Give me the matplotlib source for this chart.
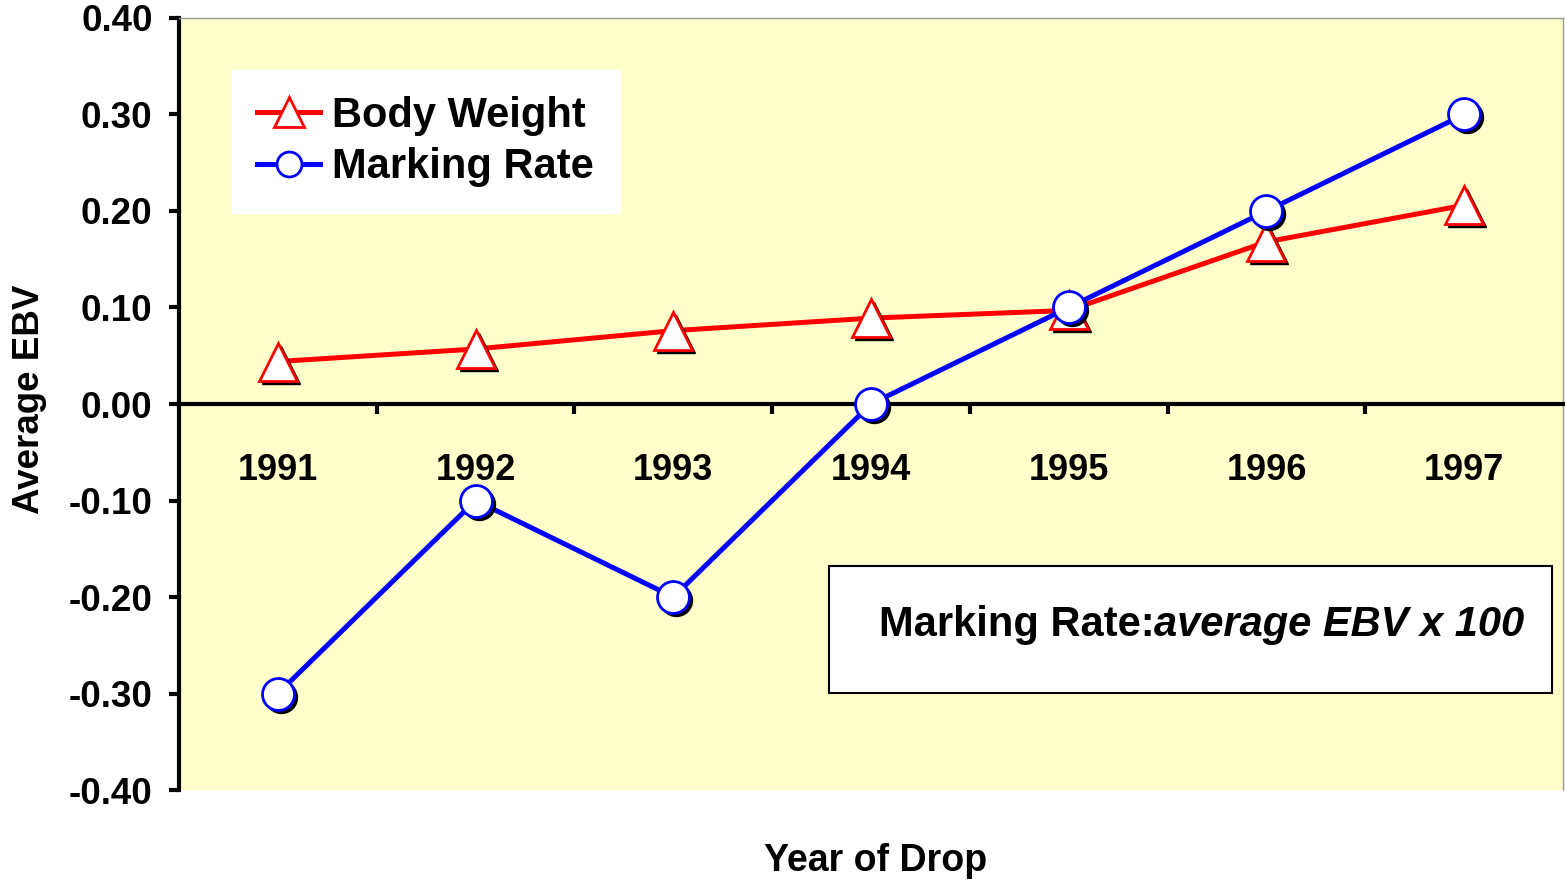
import numpy as np
import matplotlib
matplotlib.use("Agg")
import matplotlib.pyplot as plt
from matplotlib.transforms import offset_copy

plt.rcParams['font.family'] = ['Liberation Sans', 'DejaVu Sans']
plt.rcParams['font.weight'] = 'bold'

years = ['1991', '1992', '1993', '1994', '1995', '1996', '1997']
body_weight = [0.044, 0.057, 0.076, 0.089, 0.097, 0.168, 0.206]
marking_rate = [-0.30, -0.10, -0.20, 0.00, 0.10, 0.20, 0.30]
y_ticks = [-0.40, -0.30, -0.20, -0.10, 0.00, 0.10, 0.20, 0.30, 0.40]

fig = plt.figure(figsize=(15.66, 8.82), dpi=100)
ax = fig.add_axes([0.1143, 0.1043, 0.8838, 0.8753])
ax.set_facecolor('#FFFFCC')

x = np.arange(len(years))

# black drop shadow under the markers
shadow = offset_copy(ax.transData, fig=fig, x=3, y=-3, units='dots')

series = [
    (body_weight, 'red', '^', 27, 'Body Weight'),
    (marking_rate, 'blue', 'o', 23, 'Marking Rate'),
]
handles = []
for i, (vals, col, mk, ms, lab) in enumerate(series):
    z = 3 + i * 3
    ax.plot(x, vals, color=col, lw=3.6, zorder=z, solid_capstyle='butt')
    ax.plot(x, vals, ls='none', marker=mk, ms=ms, color='black', zorder=z + 1,
            transform=shadow)
    ax.plot(x, vals, ls='none', marker=mk, ms=ms, mfc='white', mec=col,
            mew=2, zorder=z + 2)
    lh, = ax.plot([], [], color=col, lw=3.6, marker=mk, ms=ms * 0.78, mfc='white',
                  mec=col, mew=2, label=lab)
    handles.append(lh)

ax.set_xlim(-0.5, len(years) - 0.5)
ax.set_ylim(-0.40, 0.40)

ax.set_yticks(y_ticks)
ax.set_yticklabels(['%.2f' % v if v >= 0 else '-%.2f' % abs(v) for v in y_ticks],
                   fontsize=26.5, fontweight='bold')
ax.tick_params(axis='y', direction='out', length=7, width=3, pad=12)

ax.spines['bottom'].set_position(('data', 0))
ax.spines['bottom'].set_linewidth(3)
ax.spines['left'].set_linewidth(3)
for s in ['top', 'right']:
    ax.spines[s].set_color('#999999')
    ax.spines[s].set_linewidth(1)

ax.set_xticks(x)
ax.set_xticklabels(years, fontsize=26, fontweight='bold')
ax.set_xticks(x[:-1] + 0.5, minor=True)
ax.tick_params(axis='x', which='major', length=0, pad=35)
ax.tick_params(axis='x', which='minor', direction='out', length=7, width=3)

fig.text(0.019, 0.547, 'Average EBV', rotation=90, ha='center', va='center',
         fontsize=26.5, fontweight='bold')
fig.text(0.559, 0.024, 'Year of Drop', ha='center', va='center',
         fontsize=27, fontweight='bold')

leg = ax.legend(handles=handles, loc='upper left', bbox_to_anchor=(0.038, 0.933),
                fontsize=30, frameon=True, fancybox=False, handlelength=1.5,
                handletextpad=0.3, borderpad=0.62, labelspacing=0.28,
                borderaxespad=0)
leg.get_frame().set_edgecolor('white')
leg.get_frame().set_facecolor('white')
leg.get_frame().set_alpha(1)
for t in leg.get_texts():
    t.set_fontweight('bold')

ax.add_patch(plt.Rectangle((0.4697, 0.1256), 0.5225, 0.1645, transform=ax.transAxes,
                           facecolor='white', edgecolor='black', lw=1.5, zorder=2))
t1 = ax.text(0.5055, 0.2137, 'Marking Rate:', transform=ax.transAxes,
             ha='left', va='center', fontsize=30, fontweight='bold', zorder=10)
ax.annotate('average EBV x 100', xy=(1, 0.5), xycoords=t1, xytext=(0, 0),
            textcoords='offset points', ha='left', va='center', fontsize=30,
            fontweight='bold', fontstyle='italic', zorder=10)

fig.savefig('out.png', dpi=100, facecolor='white')
